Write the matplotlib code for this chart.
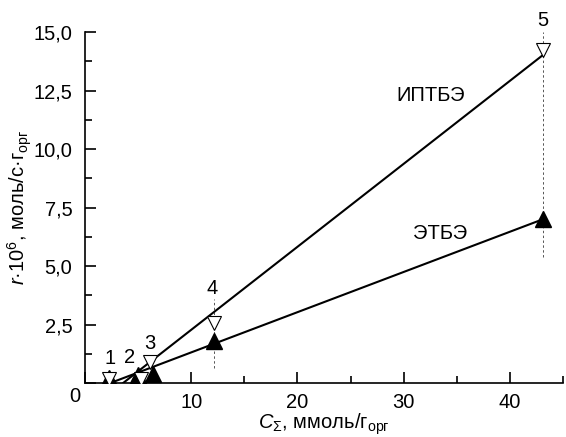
import matplotlib
matplotlib.use('Agg')
import matplotlib.pyplot as plt
from matplotlib.ticker import FuncFormatter, MultipleLocator

plt.rcParams['font.family'] = ['Liberation Sans', 'DejaVu Sans']
plt.rcParams['mathtext.fontset'] = 'custom'
plt.rcParams['mathtext.rm'] = 'Liberation Sans'
plt.rcParams['mathtext.it'] = 'Liberation Sans:italic'
plt.rcParams['mathtext.bf'] = 'Liberation Sans:bold'

FS = 14.5

# experimental points (ИПТБЭ - open, ЭТБЭ - filled)
point_labels = ['1', '2', '3', '4', '5']
c_sum = [2.26, 5.3, 6.1, 12.17, 43.1]
c_sum_etbe = [2.26, 5.0, 6.43, 12.17, 43.1]
r_iptbe = [0.19, 0.19, 0.9, 2.56, 14.25]
r_etbe = [0.22, 0.35, 0.4, 1.8, 7.0]

# fitted straight lines
iptbe_fit_x = [3.6, 43.1]
iptbe_fit_y = [0.0, 14.02]
etbe_fit_x = [2.4, 43.1]
etbe_fit_y = [0.0, 7.0]

# point number labels
label_x = [2.35, 4.23, 6.1, 12.0, 43.1]
label_y = [1.05, 1.11, 1.68, 4.05, 15.5]

# dashed guides at points 4 and 5
guide_x = [12.17, 43.1]
guide_top = [3.6, 15.0]
guide_bottom = [0.63, 5.37]

fig = plt.figure(figsize=(5.66, 4.37), dpi=100)
ax = fig.add_axes([0.150, 0.1236, 0.845, 0.803])

for gx, gt, gb in zip(guide_x, guide_top, guide_bottom):
    ax.plot([gx, gx], [gb, gt], linestyle=(0, (2.5, 2.5)), color='#555555', lw=0.7, zorder=1)

ax.plot(iptbe_fit_x, iptbe_fit_y, color='black', lw=1.5, zorder=2)
ax.plot(etbe_fit_x, etbe_fit_y, color='black', lw=1.5, zorder=2)

ax.plot(c_sum_etbe, r_etbe, linestyle='none', marker='^', markersize=11,
        color='black', zorder=3)
ax.plot(c_sum, r_iptbe, linestyle='none', marker='v', markersize=9.5,
        markerfacecolor='white', markeredgecolor='black', markeredgewidth=0.8, zorder=4)

for t, lx, ly in zip(point_labels, label_x, label_y):
    ax.text(lx, ly, t, fontsize=FS, ha='center', va='center')

ax.text(32.5, 12.3, 'ИПТБЭ', fontsize=FS, ha='center', va='center')
ax.text(33.4, 6.4, 'ЭТБЭ', fontsize=FS, ha='center', va='center')

ax.set_xlim(0, 45)
ax.set_ylim(0, 15)
ax.xaxis.set_major_locator(MultipleLocator(10))
ax.xaxis.set_minor_locator(MultipleLocator(5))
ax.yaxis.set_major_locator(MultipleLocator(2.5))
ax.yaxis.set_minor_locator(MultipleLocator(1.25))

ax.xaxis.set_major_formatter(FuncFormatter(lambda v, p: '' if v == 0 else f'{v:.0f}'))
ax.yaxis.set_major_formatter(FuncFormatter(lambda v, p: '' if v == 0 else f'{v:.1f}'.replace('.', ',')))

ax.tick_params(which='both', direction='in', labelsize=FS, width=1.2)
ax.tick_params(which='major', length=8)
ax.tick_params(which='minor', length=5)
ax.tick_params(axis='y', pad=9)
ax.tick_params(axis='x', pad=7)

ax.spines['top'].set_visible(False)
ax.spines['right'].set_visible(False)
ax.spines['left'].set_linewidth(1.2)
ax.spines['bottom'].set_linewidth(1.2)

ax.annotate('0', xy=(0, 0), xycoords='axes fraction', xytext=(-10, -14),
            textcoords='offset pixels', fontsize=FS, ha='center', va='center')

ax.set_xlabel(r'$C_{\Sigma}$, ммоль/г$_{\mathrm{орг}}$', fontsize=FS, labelpad=0)
ax.set_ylabel(r'$r$·10$^{6}$, моль/с·г$_{\mathrm{орг}}$', fontsize=FS, labelpad=0)

fig.savefig('out.png', dpi=100)
